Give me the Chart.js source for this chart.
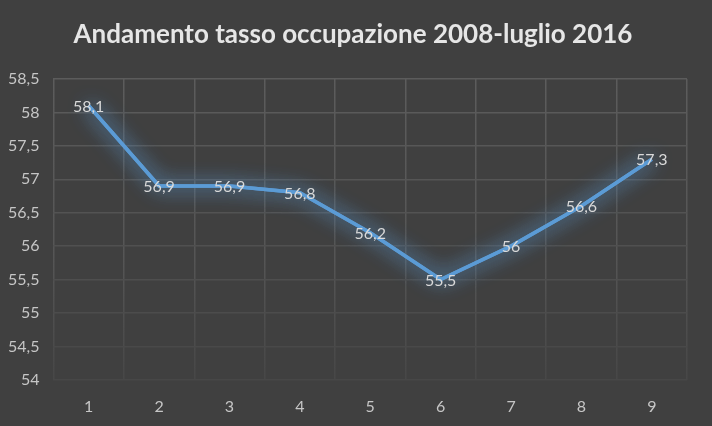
<!DOCTYPE html>
<html>
<head>
<meta charset="utf-8">
<script src="https://cdn.jsdelivr.net/npm/chart.js@4/dist/chart.umd.min.js"></script>
<style>
    html, body { margin: 0; padding: 0; background: #404040; }
    #wrap { width: 712px; height: 426px; }
</style>
</head>
<body>
<div id="wrap"><canvas id="occupazioneChart"></canvas></div>
<script>
// Dati
const categorie = ["1", "2", "3", "4", "5", "6", "7", "8", "9"];
const tassoOccupazione = [58.1, 56.9, 56.9, 56.8, 56.2, 55.5, 56, 56.6, 57.3];
const yMin = 54;
const yMax = 58.5;
const yStep = 0.5;
const titolo = "Andamento tasso occupazione 2008-luglio 2016";

const virgola = v => String(v).replace(".", ",");

// Bagliore attorno alla linea (disegnata due volte per intensificarlo)
const glowPlugin = {
    id: "glow",
    beforeDatasetDraw(chart) {
        const ctx = chart.ctx;
        ctx.save();
        ctx.shadowColor = "rgba(91, 155, 213, 0.9)";
        ctx.shadowBlur = 20;
    },
    afterDatasetDraw(chart, args) {
        const ctx = chart.ctx;
        args.meta.dataset.draw(ctx, chart.chartArea);
        ctx.restore();
    }
};

// Etichette dati centrate sui punti
const labelPlugin = {
    id: "etichette",
    afterDatasetsDraw(chart) {
        const ctx = chart.ctx;
        const meta = chart.getDatasetMeta(0);
        ctx.save();
        ctx.font = "16px Lato, 'Open Sans', sans-serif";
        ctx.fillStyle = "#d9d9d9";
        ctx.textAlign = "center";
        ctx.textBaseline = "middle";
        meta.data.forEach((pt, i) => {
            ctx.fillText(virgola(tassoOccupazione[i]), pt.x, pt.y + 1);
        });
        ctx.restore();
    }
};

// Titolo centrato sulla tela intera
const titlePlugin = {
    id: "titolo",
    afterDraw(chart) {
        const ctx = chart.ctx;
        ctx.save();
        ctx.font = "bold 26px Lato, 'Open Sans', sans-serif";
        ctx.fillStyle = "#e6e6e6";
        ctx.textAlign = "center";
        ctx.textBaseline = "middle";
        ctx.fillText(titolo, chart.width / 2 - 3, 35);
        ctx.restore();
    }
};

function gridVerticale(context) {
    const chart = context.chart;
    const area = chart.chartArea;
    if (!area) return "#585858";
    const g = chart.ctx.createLinearGradient(0, area.top, 0, area.bottom);
    g.addColorStop(0, "#5c5c5c");
    g.addColorStop(0.6, "#555555");
    g.addColorStop(1, "#474747");
    return g;
}

function gridOrizzontale(context) {
    const v = context.tick ? context.tick.value : yMax;
    const t = (v - yMin) / (yMax - yMin);
    const c = Math.round(0x47 + (0x5c - 0x47) * t);
    return `rgb(${c}, ${c}, ${c})`;
}

const fontTick = { family: "Lato, 'Open Sans', sans-serif", size: 16 };

new Chart(document.getElementById("occupazioneChart"), {
    type: "line",
    data: {
        labels: categorie,
        datasets: [{
            data: tassoOccupazione,
            borderColor: "#5b9bd5",
            borderWidth: 3.5,
            pointRadius: 0,
            tension: 0,
            fill: false
        }]
    },
    options: {
        responsive: true,
        maintainAspectRatio: false,
        animation: false,
        layout: { padding: { left: -6, right: 25, top: 79, bottom: -7 } },
        plugins: {
            legend: { display: false },
            tooltip: { enabled: false },
            title: { display: false }
        },
        scales: {
            x: {
                offset: true,
                grid: { offset: true, color: gridVerticale, lineWidth: 1.5, drawTicks: false },
                border: { display: false },
                ticks: { color: "#c6c6c6", font: fontTick, padding: 17 }
            },
            y: {
                min: yMin,
                max: yMax,
                grid: { color: gridOrizzontale, lineWidth: 1.5, drawTicks: false },
                border: { display: false },
                ticks: {
                    stepSize: yStep,
                    color: "#c6c6c6",
                    font: fontTick,
                    padding: 14,
                    callback: v => virgola(v)
                }
            }
        }
    },
    plugins: [glowPlugin, labelPlugin, titlePlugin]
});
</script>
</body>
</html>
